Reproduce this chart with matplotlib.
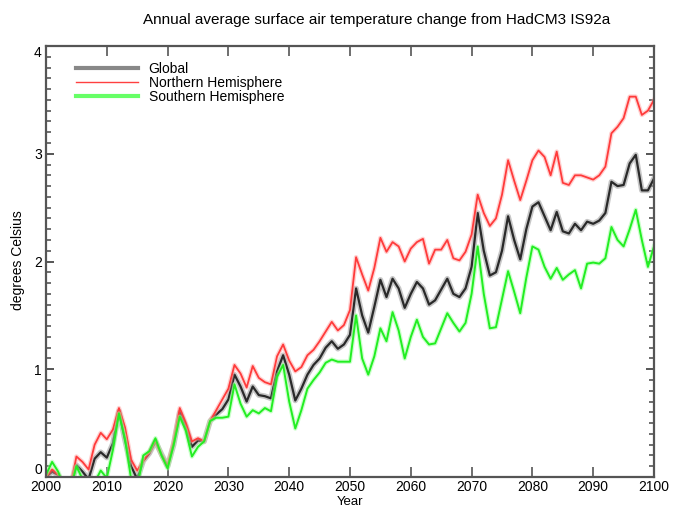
import numpy as np
import matplotlib
matplotlib.use("Agg")
import matplotlib.pyplot as plt
from matplotlib.lines import Line2D

plt.rcParams['font.family'] = ['Liberation Sans', 'DejaVu Sans']

title = "Annual average surface air temperature change from HadCM3 IS92a"
years = list(range(2000, 2101))

northern = [
    0.00, 0.07, 0.02, -0.08, -0.10, 0.19, 0.14, 0.07, 0.30, 0.41,
    0.35, 0.44, 0.64, 0.46, 0.16, 0.06, 0.15, 0.23, 0.34, 0.20,
    0.10, 0.33, 0.64, 0.50, 0.33, 0.36, 0.33, 0.52, 0.62, 0.72,
    0.82, 1.04, 0.96, 0.83, 1.03, 0.92, 0.88, 0.86, 1.12, 1.23,
    1.08, 0.98, 1.02, 1.13, 1.18, 1.26, 1.35, 1.44, 1.36, 1.41,
    1.55, 2.04, 1.88, 1.73, 1.94, 2.22, 2.09, 2.18, 2.14, 2.00,
    2.12, 2.18, 2.21, 1.98, 2.11, 2.11, 2.20, 2.03, 2.01, 2.09,
    2.25, 2.62, 2.45, 2.33, 2.40, 2.62, 2.94, 2.75, 2.57, 2.75,
    2.94, 3.03, 2.97, 2.80, 3.02, 2.73, 2.71, 2.80, 2.80, 2.78,
    2.76, 2.80, 2.88, 3.19, 3.25, 3.33, 3.53, 3.53, 3.36, 3.40,
    3.50,
]
global_mean = [
    0.00, 0.05, 0.02, -0.08, -0.10, 0.11, 0.05, -0.02, 0.17, 0.23,
    0.18, 0.31, 0.61, 0.34, 0.10, -0.02, 0.15, 0.22, 0.33, 0.21,
    0.10, 0.30, 0.60, 0.47, 0.28, 0.34, 0.33, 0.52, 0.58, 0.63,
    0.72, 0.95, 0.84, 0.70, 0.84, 0.76, 0.75, 0.73, 0.98, 1.13,
    0.95, 0.71, 0.82, 0.95, 1.04, 1.10, 1.20, 1.26, 1.19, 1.23,
    1.32, 1.75, 1.50, 1.34, 1.58, 1.83, 1.67, 1.84, 1.75, 1.57,
    1.70, 1.81, 1.75, 1.60, 1.64, 1.74, 1.84, 1.70, 1.67, 1.75,
    1.95, 2.45, 2.10, 1.87, 1.90, 2.10, 2.42, 2.20, 2.02, 2.30,
    2.51, 2.55, 2.42, 2.29, 2.46, 2.28, 2.26, 2.35, 2.29, 2.37,
    2.35, 2.38, 2.45, 2.74, 2.70, 2.71, 2.91, 2.99, 2.66, 2.66,
    2.77,
]
southern = [
    0.02, 0.14, 0.05, -0.10, -0.12, 0.10, -0.02, -0.10, -0.05, 0.06,
    -0.01, 0.25, 0.59, 0.35, -0.02, -0.10, 0.20, 0.24, 0.36, 0.20,
    0.08, 0.30, 0.56, 0.43, 0.19, 0.28, 0.33, 0.52, 0.55, 0.55,
    0.56, 0.86, 0.68, 0.56, 0.62, 0.59, 0.64, 0.61, 0.93, 1.04,
    0.70, 0.45, 0.62, 0.82, 0.90, 0.97, 1.06, 1.09, 1.07, 1.07,
    1.07, 1.50, 1.10, 0.95, 1.12, 1.38, 1.26, 1.53, 1.36, 1.10,
    1.30, 1.46, 1.30, 1.23, 1.24, 1.38, 1.52, 1.43, 1.35, 1.43,
    1.70, 2.14, 1.70, 1.38, 1.39, 1.65, 1.91, 1.72, 1.52, 1.85,
    2.14, 2.11, 1.95, 1.84, 1.94, 1.83, 1.88, 1.92, 1.75, 1.98,
    1.99, 1.98, 2.03, 2.32, 2.20, 2.14, 2.30, 2.48, 2.20, 1.95,
    2.14,
]
series_labels = ["Global", "Northern Hemisphere", "Southern Hemisphere"]
x_ticks = list(range(2000, 2101, 10))
y_ticks = [0, 1, 2, 3, 4]

W, H = 678, 507
fig = plt.figure(figsize=(W / 100, H / 100), dpi=100)
ax = fig.add_axes([46 / W, 30 / H, 608 / W, 431 / H])

# soft halos to mimic the blurred original
ax.plot(years, global_mean, color='#9a9a9a', lw=4.0, alpha=0.55, solid_joinstyle='round')
ax.plot(years, global_mean, color='#2a2a2a', lw=1.6, solid_joinstyle='round')
ax.plot(years, northern, color='#ff9a9a', lw=3.2, alpha=0.45, solid_joinstyle='round')
ax.plot(years, northern, color='#ff3b3b', lw=1.3, solid_joinstyle='round')
ax.plot(years, southern, color='#9aff9a', lw=3.2, alpha=0.5, solid_joinstyle='round')
ax.plot(years, southern, color='#22ee22', lw=1.4, solid_joinstyle='round')

ax.set_xlim(2000, 2100)
ax.set_ylim(0, 4)
ax.set_xticks(x_ticks)
ax.set_xticklabels([str(t) for t in x_ticks])
ax.set_yticks(y_ticks)
ax.set_yticklabels([str(t) for t in y_ticks])
ax.set_yticks(np.arange(0, 4.01, 0.1), minor=True)

spine_c = '#555555'
for s in ax.spines.values():
    s.set_color(spine_c)
    s.set_linewidth(1.6)

ax.tick_params(axis='x', which='major', direction='in', length=7, width=1.2,
               color=spine_c, top=True, bottom=True, labelsize=10, pad=2.5)
ax.tick_params(axis='y', which='major', direction='in', length=6, width=1.4,
               color=spine_c, left=True, right=True, labelsize=10, pad=3)
ax.tick_params(axis='y', which='minor', direction='in', length=3.5, width=1.2,
               color=spine_c, left=True, right=True)

ylabs = ax.get_yticklabels()
ylabs[0].set_verticalalignment('bottom')
ylabs[-1].set_verticalalignment('top')

fig.text(377 / W, 1 - 20 / H, title, fontsize=11, ha='center', va='center')
fig.text(350 / W, 1 - 502 / H, "Year", fontsize=9.5, ha='center', va='center')
fig.text(18 / W, 1 - 260 / H, "degrees Celsius", fontsize=10, ha='center',
         va='center', rotation=90)

handles = [
    Line2D([], [], color='#888888', lw=3.0),
    Line2D([], [], color='#ff4040', lw=1.0),
    Line2D([], [], color='#66ff66', lw=3.0),
]
ax.legend(handles, series_labels, loc='upper left', bbox_to_anchor=(0.05, 0.964),
          frameon=False, fontsize=10, handlelength=4.4, handletextpad=0.8,
          labelspacing=0.0, borderpad=0, borderaxespad=0)

fig.savefig("out.png", dpi=100)
